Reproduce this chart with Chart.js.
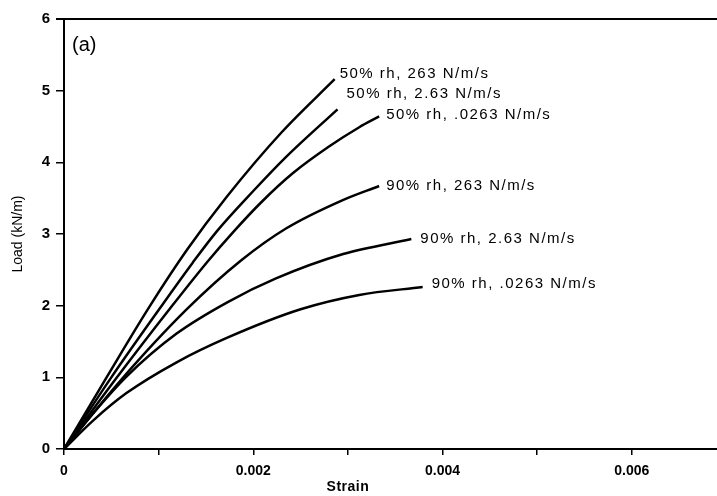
<!DOCTYPE html>
<html>
<head>
<meta charset="utf-8">
<script src="https://cdn.jsdelivr.net/npm/chart.js@4"></script>
<style>
    html, body { margin: 0; padding: 0; background: #fff; }
    #wrap { width: 717px; height: 496px; position: relative; }
</style>
</head>
<body>
<div id="wrap"><canvas id="loadChart"></canvas></div>
<script>
// curve labels, in the order they are drawn
const seriesLabels = [
    '50% rh, 263 N/m/s',
    '50% rh, 2.63 N/m/s',
    '50% rh, .0263 N/m/s',
    '90% rh, 263 N/m/s',
    '90% rh, 2.63 N/m/s',
    '90% rh, .0263 N/m/s'
];

// strain (-) and load (kN/m)
const strain50_263 = [0, 0.00045, 0.0009, 0.0013, 0.00172, 0.0023, 0.00286];
const load50_263   = [0, 1.00, 1.98, 2.78, 3.52, 4.42, 5.16];

const strain50_2p63 = [0, 0.0005, 0.001, 0.00136, 0.00161, 0.002, 0.00235, 0.00289];
const load50_2p63   = [0, 1.00, 1.94, 2.60, 3.03, 3.60, 4.08, 4.74];

const strain50_p0263 = [0, 0.00056, 0.00112, 0.00152, 0.00179, 0.00209, 0.00242, 0.0028, 0.00312, 0.00333];
const load50_p0263   = [0, 1.00, 1.96, 2.62, 3.03, 3.45, 3.85, 4.22, 4.49, 4.64];

const strain90_263 = [0, 0.0006, 0.00129, 0.00188, 0.00235, 0.00294, 0.00333];
const load90_263   = [0, 0.96, 1.94, 2.64, 3.08, 3.47, 3.67];

const strain90_2p63 = [0, 0.00031, 0.00066, 0.00119, 0.00173, 0.00224, 0.00295, 0.00367];
const load90_2p63   = [0, 0.50, 1.01, 1.61, 2.05, 2.38, 2.72, 2.93];

const strain90_p0263 = [0, 0.00031, 0.00066, 0.00119, 0.00172, 0.0025, 0.00312, 0.00379];
const load90_p0263   = [0, 0.40, 0.78, 1.21, 1.55, 1.95, 2.15, 2.26];

const xTicks = [0, 0.002, 0.004, 0.006];
const yTicks = [0, 1, 2, 3, 4, 5, 6];

const strains = [strain50_263, strain50_2p63, strain50_p0263, strain90_263, strain90_2p63, strain90_p0263];
const loads = [load50_263, load50_2p63, load50_p0263, load90_263, load90_2p63, load90_p0263];

// where each label sits relative to the end of its curve
const labelOffsets = [[5, -5], [9, -15], [7, -2], [7, 0], [9, 0], [9, -3]];

const datasets = seriesLabels.map((label, i) => ({
    label: label,
    data: strains[i].map((s, j) => ({ x: s, y: loads[i][j] })),
    borderColor: '#000',
    borderWidth: 2.5,
    pointRadius: 0,
    fill: false,
    cubicInterpolationMode: 'monotone'
}));

const annotations = {
    id: 'annotations',
    afterDraw(chart) {
        const ctx = chart.ctx;
        const area = chart.chartArea;
        const xs = chart.scales.x;
        ctx.save();
        // top frame line
        ctx.strokeStyle = '#000';
        ctx.lineWidth = 2;
        ctx.beginPath();
        ctx.moveTo(area.left - 8, area.top);
        ctx.lineTo(area.right, area.top);
        ctx.stroke();

        ctx.fillStyle = '#000';
        ctx.textBaseline = 'middle';
        ctx.textAlign = 'left';

        // curve labels
        ctx.font = '15px "Liberation Sans", Arial, sans-serif';
        ctx.letterSpacing = '1.5px';
        chart.data.datasets.forEach((ds, i) => {
            const pts = chart.getDatasetMeta(i).data;
            const end = pts[pts.length - 1];
            ctx.fillText(ds.label, end.x + labelOffsets[i][0], end.y + labelOffsets[i][1]);
        });

        // panel tag
        ctx.letterSpacing = '0px';
        ctx.font = '20px "Liberation Sans", Arial, sans-serif';
        ctx.fillText('(a)', area.left + 8, area.top + 26);

        // x title, centred under the labelled part of the axis
        ctx.font = 'bold 14px "Liberation Sans", Arial, sans-serif';
        ctx.letterSpacing = '0.5px';
        ctx.textAlign = 'center';
        ctx.fillText('Strain', xs.getPixelForValue(0.003), 487);
        ctx.restore();
    }
};

document.addEventListener('DOMContentLoaded', function() {
    const ctx = document.getElementById('loadChart').getContext('2d');
    new Chart(ctx, {
        type: 'line',
        data: { datasets: datasets },
        options: {
            responsive: true,
            maintainAspectRatio: false,
            animation: false,
            layout: { padding: { top: 19, right: 0, left: 0, bottom: 0 } },
            plugins: {
                legend: { display: false },
                tooltip: { enabled: false }
            },
            scales: {
                x: {
                    type: 'linear',
                    min: 0,
                    max: 0.0069,
                    afterFit: scale => { scale.height = 47; },
                    border: { color: '#000', width: 2 },
                    grid: { drawOnChartArea: false, drawTicks: true, tickLength: 6, color: '#000', lineWidth: 1.5 },
                    ticks: {
                        stepSize: 0.001,
                        includeBounds: false,
                        autoSkip: false,
                        maxRotation: 0,
                        padding: 8,
                        color: '#000',
                        font: { family: '"Liberation Sans", Arial, sans-serif', size: 14, weight: 'bold' },
                        callback: function(value) {
                            const hit = xTicks.find(t => Math.abs(t - value) < 1e-9);
                            if (hit === undefined) return '';
                            return hit === 0 ? '0' : hit.toFixed(3);
                        }
                    }
                },
                y: {
                    min: 0,
                    max: 6,
                    afterFit: scale => { scale.width = 64; },
                    border: { color: '#000', width: 2 },
                    grid: { drawOnChartArea: false, drawTicks: true, tickLength: 8, color: '#000', lineWidth: 1.5 },
                    ticks: {
                        stepSize: 1,
                        padding: 6,
                        color: '#000',
                        font: { family: '"Liberation Sans", Arial, sans-serif', size: 15, weight: 'bold' },
                        callback: value => yTicks.includes(value) ? String(value) : ''
                    },
                    title: {
                        display: true,
                        text: 'Load (kN/m)',
                        color: '#000',
                        padding: { top: 10, bottom: 0 },
                        font: { family: '"Liberation Sans", Arial, sans-serif', size: 14 }
                    }
                }
            }
        },
        plugins: [annotations]
    });
});
</script>
</body>
</html>
